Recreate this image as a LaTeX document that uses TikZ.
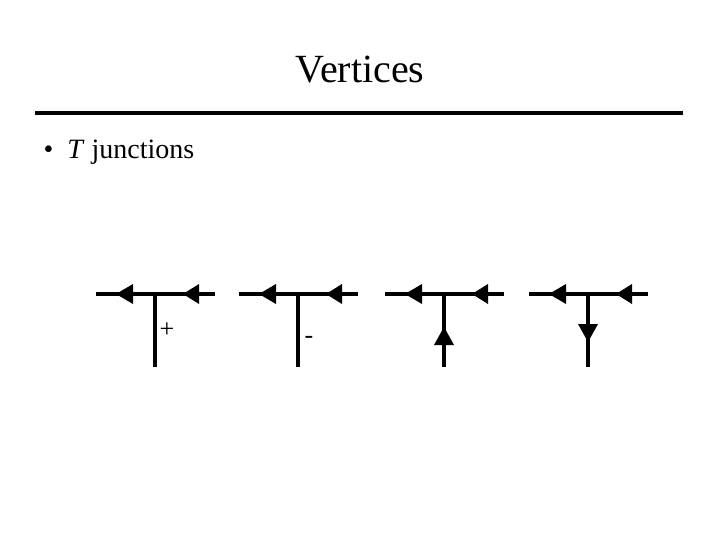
\documentclass[tikz,border=0pt]{standalone}
\usepackage{fontspec}
\setmainfont{Liberation Serif}
\begin{document}
\begin{tikzpicture}[x=1pt,y=-1pt,
  ln/.style={line width=4pt},
  tri/.style={fill=black}]
\useasboundingbox (0,0) rectangle (720,540);
\node[font=\fontsize{40}{48}\selectfont] (title) at (360,70) {Vertices};
\draw[line width=3.5pt] (35,113) coordinate (r1) -- (683,113) coordinate (r2);
\node[anchor=west,font=\fontsize{28}{34}\selectfont] (bul) at (40,152) {\textbullet\ \ \textit{T} junctions};
\foreach \i/\x in {1/155,2/298,3/444,4/588}{
  \draw[ln] (\x-59,294) coordinate (l\i) -- (\x+60,294) coordinate (r\i);
  \draw[ln] (\x,294) coordinate (c\i) -- (\x,367) coordinate (b\i);
  \fill[tri] (\x-39,294) -- (\x-22,284) -- (\x-22,304) -- cycle;
  \fill[tri] (\x+28,294) -- (\x+44,284) -- (\x+44,304) -- cycle;
}
\node[anchor=west,font=\fontsize{26}{30}\selectfont] (plus) at (156,330) {+};
\node[anchor=west,font=\fontsize{26}{30}\selectfont] (minus) at (301,340) {-};
\fill[tri] (444,327) -- (434,345) -- (454,345) -- cycle;
\fill[tri] (588,342) -- (578,324) -- (598,324) -- cycle;
\end{tikzpicture}
\end{document}
